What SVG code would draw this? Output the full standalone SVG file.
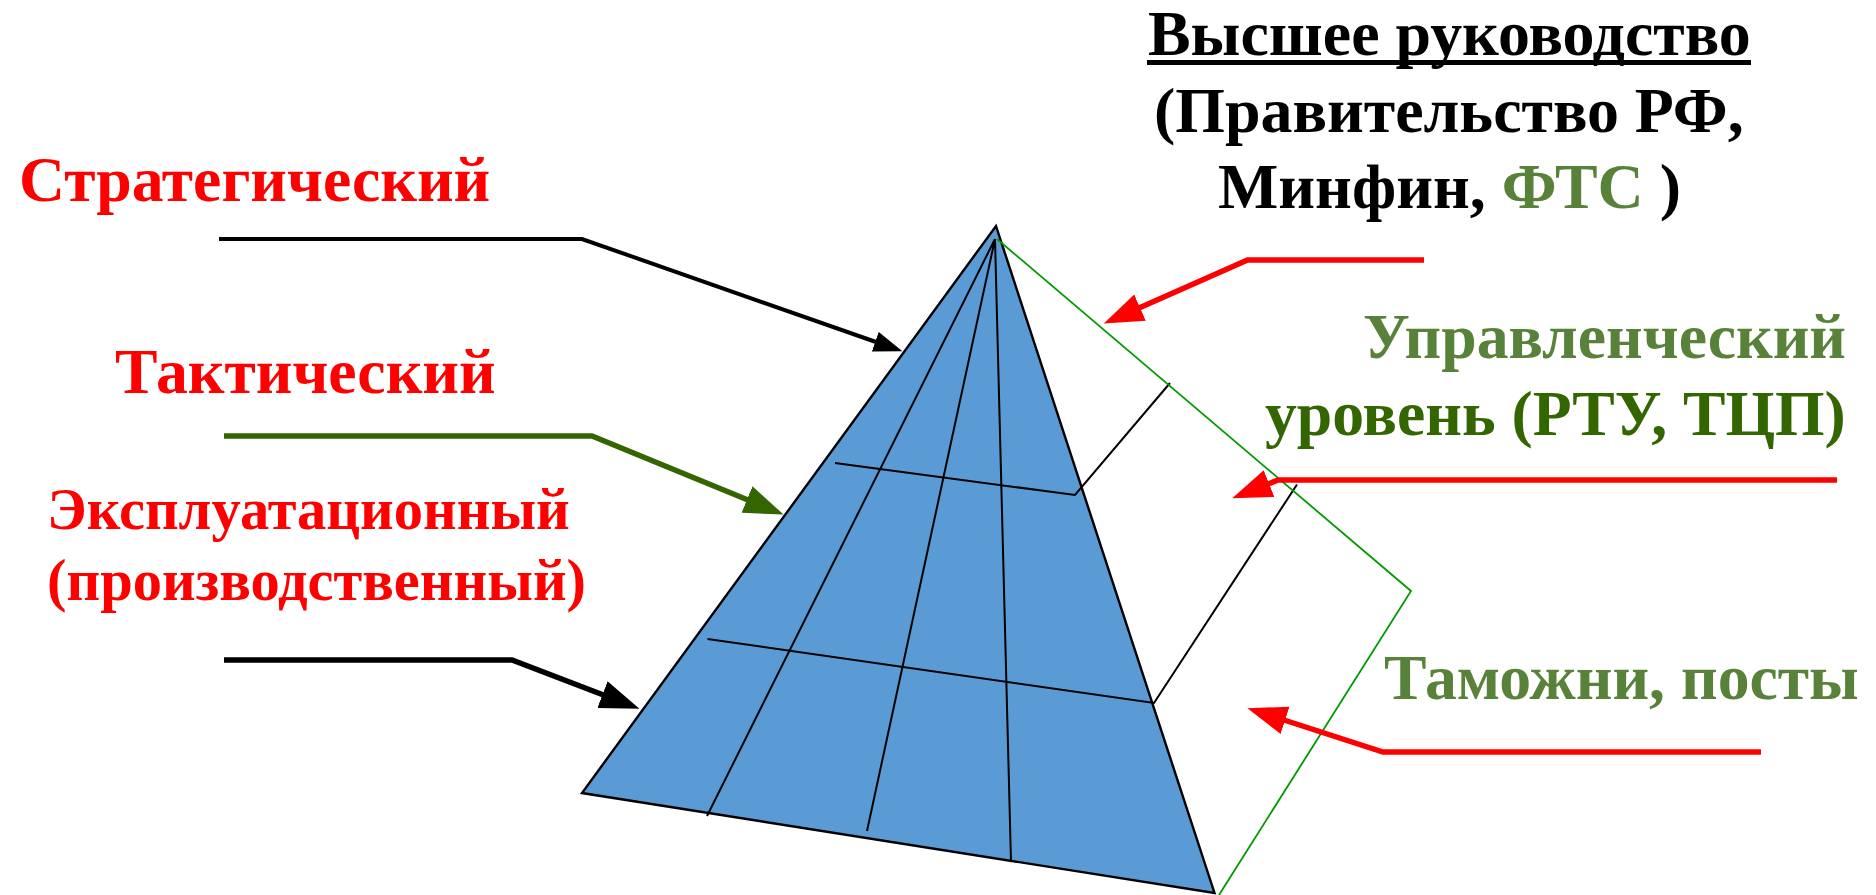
<svg xmlns="http://www.w3.org/2000/svg" width="1876" height="895" viewBox="0 0 1876 895">
<style>
text{font-family:"Liberation Serif","Noto Sans CJK SC",serif;font-weight:bold;font-size:63.700px}
.red{fill:#ff0000}.blk{fill:#000}.lg{fill:#588239}.dg{fill:#336600}
.top{font-size:63.900px}
.small{font-size:58.500px}
.grid{fill:none;stroke:#000;stroke-width:2}
.conn{fill:none;stroke-width:5.500}
.thin{stroke-width:4}
</style>
<defs>
<marker id="hk" markerUnits="strokeWidth" markerWidth="7.2" markerHeight="5.2" refX="0.2" refY="2.6" orient="auto"><path d="M0 0L7.2 2.6L0 5.2z" fill="#000"/></marker>
<marker id="hg" markerUnits="strokeWidth" markerWidth="7.2" markerHeight="5.2" refX="0.2" refY="2.6" orient="auto"><path d="M0 0L7.2 2.6L0 5.2z" fill="#336600"/></marker>
<marker id="hr" markerUnits="strokeWidth" markerWidth="7.2" markerHeight="5.2" refX="0.2" refY="2.6" orient="auto"><path d="M0 0L7.2 2.6L0 5.2z" fill="#ff0000"/></marker>
</defs>
<g id="pyramid">
<path d="M996 226L1214.500 893L582 793Z" fill="#5B9BD5" stroke="#000" stroke-width="2.400"/>
<path class="grid" d="M995 239L707 816M995 239L867 831M995 239L1011 862"/>
<path class="grid" d="M835 463L1075 495L1170 383M707.500 639L1154 703L1297 484.500"/>
<path d="M997 239L1411 591L1219 895" fill="none" stroke="#009900" stroke-width="1.800"/>
</g>
<g id="connectors">
<path class="conn thin" stroke="#000" d="M219 239H582L876 342" marker-end="url(#hk)"/>
<path class="conn" stroke="#336600" d="M224 436H592L748 500" marker-end="url(#hg)"/>
<path class="conn" stroke="#000" d="M224 660H512L603.500 695" marker-end="url(#hk)"/>
<path class="conn" stroke="#ff0000" d="M1424 260H1247.500L1139 308" marker-end="url(#hr)"/>
<path class="conn" stroke="#ff0000" d="M1837 480H1278L1268 484" marker-end="url(#hr)"/>
<path class="conn" stroke="#ff0000" d="M1761 752H1383L1284 720" marker-end="url(#hr)"/>
</g>
<g id="label-top">
<text class="blk top" x="1148" y="55">Высшее руководство</text>
<rect x="1147" y="60" width="604" height="5" fill="#000"/>
<text class="blk top" x="1154" y="132">(Правительство РФ,</text>
<text class="blk top" x="1218" y="208">Минфин, <tspan class="lg">ФТС</tspan> )</text>
</g>
<g id="label-manage">
<text class="lg" x="1363" y="358">Управленческий</text>
<text class="dg" x="1265" y="435">уровень (РТУ, ТЦП)</text>
</g>
<g id="label-posts"><text class="lg" x="1384" y="699">Таможни, посты</text></g>
<g id="label-strategic"><text class="red" x="19" y="201">Стратегический</text></g>
<g id="label-tactical"><text class="red" x="115" y="393">Тактический</text></g>
<g id="label-operational">
<text class="red small" x="47" y="529">Эксплуатационный</text>
<text class="red small" x="47" y="600">(производственный)</text>
</g>
</svg>
